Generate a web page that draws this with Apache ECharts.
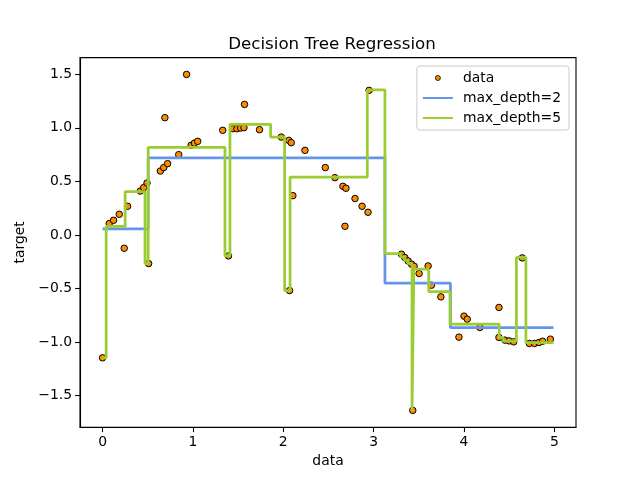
<!DOCTYPE html>
<html>
<head>
<meta charset="utf-8">
<script src="https://cdn.jsdelivr.net/npm/echarts@6/dist/echarts.min.js"></script>
<style>
  html, body { margin: 0; padding: 0; background: #fff; }
  #chart { width: 640px; height: 480px; }
</style>
</head>
<body>
<div id="chart"></div>
<script>
// scatter samples
const sampleX = [0.000, 0.074, 0.122, 0.185, 0.240, 0.277, 0.418, 0.455, 0.492, 0.510,
    0.640, 0.677, 0.690, 0.720, 0.843, 0.930, 0.980, 1.017, 1.053, 1.330,
    1.394, 1.443, 1.487, 1.528, 1.565, 1.571, 1.737, 1.978, 2.062, 2.070,
    2.088, 2.106, 2.240, 2.465, 2.572, 2.660, 2.683, 2.694, 2.794, 2.872,
    2.938, 2.950, 3.308, 3.345, 3.382, 3.420, 3.433, 3.448, 3.503, 3.603,
    3.640, 3.744, 3.944, 4.000, 4.036, 4.176, 4.387, 4.387, 4.453, 4.500,
    4.550, 4.645, 4.723, 4.780, 4.830, 4.870, 4.956];
const sampleY = [-1.147, 0.106, 0.137, 0.193, -0.124, 0.268, 0.410, 0.442, 0.485, -0.267,
    0.597, 0.629, 1.095, 0.666, 0.750, 1.499, 0.837, 0.858, 0.874, 0.977,
    -0.196, 0.992, 0.992, 0.998, 1.002, 1.219, 0.983, 0.914, 0.883, -0.519,
    0.862, 0.367, 0.790, 0.629, 0.535, 0.454, 0.081, 0.436, 0.340, 0.268,
    0.212, 1.350, -0.180, -0.211, -0.243, -0.273, -1.638, -0.292, -0.360, -0.289,
    -0.469, -0.578, -0.954, -0.758, -0.786, -0.864, -0.677, -0.957, -0.982, -0.989,
    -0.998, -0.214, -1.013, -1.013, -1.004, -0.992, -0.973];

// tree predictions: each level holds from its edge up to the next edge
const depth2Edges = [0.00, 0.505, 3.125, 3.85];
const depth2Levels = [0.056, 0.720, -0.450, -0.866];
const depth5Edges = [0.00, 0.04, 0.25, 0.47, 0.505, 1.355, 1.41, 1.86, 2.015, 2.075,
    2.93, 3.125, 3.30, 3.34, 3.38, 3.425, 3.445, 3.61, 3.845, 4.39,
    4.43, 4.58, 4.685];
const depth5Levels = [-1.147, 0.080, 0.405, -0.267, 0.818, -0.196, 1.033, 0.914, -0.519, 0.541,
    1.355, -0.174, -0.205, -0.235, -0.265, -1.638, -0.320, -0.530, -0.833, -0.957,
    -0.990, -0.210, -1.005];
const predictEnd = 4.99;

const xTicks = [0, 1, 2, 3, 4, 5];
const yTicks = [-1.5, -1.0, -0.5, 0.0, 0.5, 1.0, 1.5];

const FONT = "DejaVu Sans";

function stepData(edges, levels) {
    const pts = edges.map((e, i) => [e, levels[i]]);
    pts.push([predictEnd, levels[levels.length - 1]]);
    return pts;
}

// legend entries for the lines: no dot in the middle of the handle
const lineLegend = (name) => ({name: name, itemStyle: {opacity: 0}});

const chart = echarts.init(document.getElementById("chart"));
chart.setOption({
    animation: false,
    backgroundColor: "#fff",
    textStyle: {fontFamily: FONT},
    title: {
        text: "Decision Tree Regression",
        left: 327,
        textAlign: "center",
        top: 31,
        textStyle: {fontFamily: FONT, fontSize: 16.7, fontWeight: "normal", color: "#000"},
    },
    legend: {
        orient: "vertical",
        right: 71,
        top: 66,
        itemWidth: 30,
        itemHeight: 5,
        itemGap: 6,
        padding: [5, 8, 5, 5],
        backgroundColor: "rgba(255,255,255,0.8)",
        borderColor: "#cccccc",
        borderWidth: 1,
        borderRadius: 3,
        textStyle: {fontFamily: FONT, fontSize: 13.9, color: "#000", padding: [0, 0, 0, 5]},
        data: [
            {name: "data", itemStyle: {borderWidth: 0.8}},
            lineLegend("max_depth=2"),
            lineLegend("max_depth=5"),
        ],
    },
    grid: {
        left: 80, right: 64, top: 57.6, bottom: 52.8,
        show: true, borderColor: "#000", borderWidth: 1.1,
    },
    xAxis: {
        type: "value",
        min: -0.2495,
        max: 5.2395,
        name: "data",
        nameLocation: "middle",
        nameGap: 27,
        nameTextStyle: {fontFamily: FONT, fontSize: 13.9, color: "#000"},
        axisLine: {show: true, onZero: false, lineStyle: {color: "#000", width: 1.1}},
        axisTick: {show: true, customValues: xTicks, length: 4.9, lineStyle: {color: "#000", width: 1.1}},
        axisLabel: {
            customValues: xTicks, margin: 8, color: "#000", fontFamily: FONT, fontSize: 13.9,
            formatter: (v) => String(v),
        },
        splitLine: {show: false},
    },
    yAxis: {
        type: "value",
        min: -1.795,
        max: 1.656,
        name: "target",
        nameLocation: "middle",
        nameGap: 42,
        nameRotate: 90,
        nameTextStyle: {fontFamily: FONT, fontSize: 13.9, color: "#000"},
        axisLine: {show: true, onZero: false, lineStyle: {color: "#000", width: 1.1}},
        axisTick: {show: true, customValues: yTicks, length: 4.9, lineStyle: {color: "#000", width: 1.1}},
        axisLabel: {
            customValues: yTicks, margin: 8, color: "#000", fontFamily: FONT, fontSize: 13.9,
            formatter: (v) => v.toFixed(1).replace("-", "\u2212"),
        },
        splitLine: {show: false},
    },
    series: [
        {
            name: "data",
            type: "scatter",
            data: sampleX.map((x, i) => [x, sampleY[i]]),
            symbol: "circle",
            symbolSize: 6.5,
            itemStyle: {color: "#ff8c00", borderColor: "#000", borderWidth: 1, opacity: 1},
            z: 2,
        },
        {
            name: "max_depth=2",
            type: "line",
            step: "end",
            data: stepData(depth2Edges, depth2Levels),
            symbol: "none",
            showSymbol: false,
            itemStyle: {color: "#6495ed"},
            lineStyle: {color: "#6495ed", width: 2.78},
            z: 3,
        },
        {
            name: "max_depth=5",
            type: "line",
            step: "end",
            data: stepData(depth5Edges, depth5Levels),
            symbol: "none",
            showSymbol: false,
            itemStyle: {color: "#9acd32"},
            lineStyle: {color: "#9acd32", width: 2.78},
            z: 4,
        },
    ],
});
</script>
</body>
</html>
